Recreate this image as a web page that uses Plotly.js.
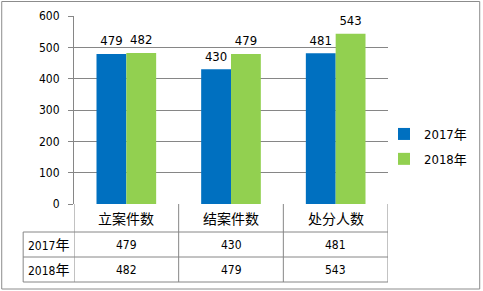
<!DOCTYPE html>
<html>
<head>
<meta charset="utf-8">
<script src="https://cdn.plot.ly/plotly-3.0.1.min.js"></script>
<style>html,body{margin:0;padding:0;background:#fff;}#chart{width:483px;height:291px;}</style>
</head>
<body>
<div id="chart"></div>
<script>
const categories = ['立案件数', '结案件数', '处分人数'];
const seriesNames = ['2017年', '2018年'];
const values2017 = [479, 430, 481];
const values2018 = [482, 479, 543];
const yTickVals = [0, 100, 200, 300, 400, 500, 600];

const W = 483, H = 291;
const L = 74, R = 389, T = 16, B = 204;
const px = p => (p - L) / (R - L);
const py = p => (B - p) / (B - T);

const FONT = 'DejaVu Sans Condensed, DejaVu Sans, Noto Sans CJK SC, sans-serif';
const GRID = '#868686';
const blue = '#0070C0', green = '#92D050';
const GAP = 0.43;

function labelTrace(vals, group) {
  return {type: 'scatter', mode: 'markers+text', x: categories, y: vals, text: vals.map(String),
    textposition: 'top center', offsetgroup: group, showlegend: false, cliponaxis: false,
    marker: {size: 7, opacity: 0}, textfont: {family: FONT, size: 13, color: '#000'}, hoverinfo: 'skip'};
}

const traces = [
  {type: 'bar', name: seriesNames[0], x: categories, y: values2017, marker: {color: blue},
   offsetgroup: 'a', legendgroup: 'a', hoverinfo: 'skip'},
  {type: 'bar', name: seriesNames[1], x: categories, y: values2018, marker: {color: green},
   offsetgroup: 'b', legendgroup: 'b', hoverinfo: 'skip'},
  labelTrace(values2017, 'a'),
  labelTrace(values2018, 'b')
];

function yl(s) {
  return s.replace('年', '<span style="font-size:14px">年</span>');
}

const shapes = [];
const annotations = [];
shapes.push({type: 'rect', xref: 'paper', yref: 'paper', x0: px(1.5), x1: px(481), y0: py(289), y1: py(1.5),
  line: {color: '#8c8c8c', width: 1}});
[232, 257, 282].forEach(y => shapes.push({type: 'line', xref: 'paper', yref: 'paper',
  x0: px(23), x1: px(R), y0: py(y), y1: py(y), line: {color: GRID, width: 1}}));
for (let i = 0; i <= categories.length; i++) {
  shapes.push({type: 'line', xref: 'x', yref: 'paper', x0: i - 0.5, x1: i - 0.5,
    y0: py(204), y1: py(282), line: {color: GRID, width: 1}});
}
shapes.push({type: 'line', xref: 'paper', yref: 'paper', x0: px(23), x1: px(23),
  y0: py(232), y1: py(282), line: {color: GRID, width: 1}});

categories.forEach(c => annotations.push({xref: 'x', yref: 'paper', x: c, y: py(218.5),
  text: c, showarrow: false, font: {family: FONT, size: 14, color: '#000'}, yanchor: 'middle'}));
[[seriesNames[0], 244.5], [seriesNames[1], 269.5]].forEach(([n, y]) => annotations.push({
  xref: 'paper', yref: 'paper', x: px(48), y: py(y), text: yl(n), showarrow: false,
  font: {family: FONT, size: 12, color: '#000'}, xanchor: 'center', yanchor: 'middle'}));
[[values2017, 244.5], [values2018, 269.5]].forEach(([vals, y]) => vals.forEach((v, i) =>
  annotations.push({xref: 'x', yref: 'paper', x: categories[i], y: py(y), text: String(v),
    showarrow: false, font: {family: FONT, size: 12, color: '#000'}, yanchor: 'middle'})));

const layout = {
  width: W, height: H,
  margin: {l: L, r: W - R, t: T, b: H - B, pad: 0},
  paper_bgcolor: '#fff', plot_bgcolor: '#fff',
  barmode: 'group', bargap: GAP, bargroupgap: 0,
  scattermode: 'group', scattergap: GAP,
  font: {family: FONT, size: 12, color: '#000'},
  xaxis: {type: 'category', showticklabels: false, ticks: '', showgrid: false, zeroline: false,
    showline: false, range: [-0.5, 2.5], fixedrange: true},
  yaxis: {range: [0, 600], tickvals: yTickVals, ticktext: yTickVals.map(String),
    showgrid: true, gridcolor: GRID, gridwidth: 1, zeroline: false,
    showline: true, linecolor: GRID, linewidth: 1, ticks: 'outside', ticklen: 5, tickcolor: GRID,
    tickfont: {family: FONT, size: 12, color: '#000'}, ticklabelstandoff: 6, fixedrange: true},
  showlegend: true,
  legend: {x: px(384), y: py(119), xanchor: 'left', yanchor: 'top', traceorder: 'grouped',
    tracegroupgap: 5, bgcolor: 'rgba(0,0,0,0)', font: {family: FONT, size: 13, color: '#000'}},
  shapes: shapes,
  annotations: annotations
};

Plotly.newPlot('chart', traces, layout, {displayModeBar: false, staticPlot: true});
</script>
</body>
</html>
